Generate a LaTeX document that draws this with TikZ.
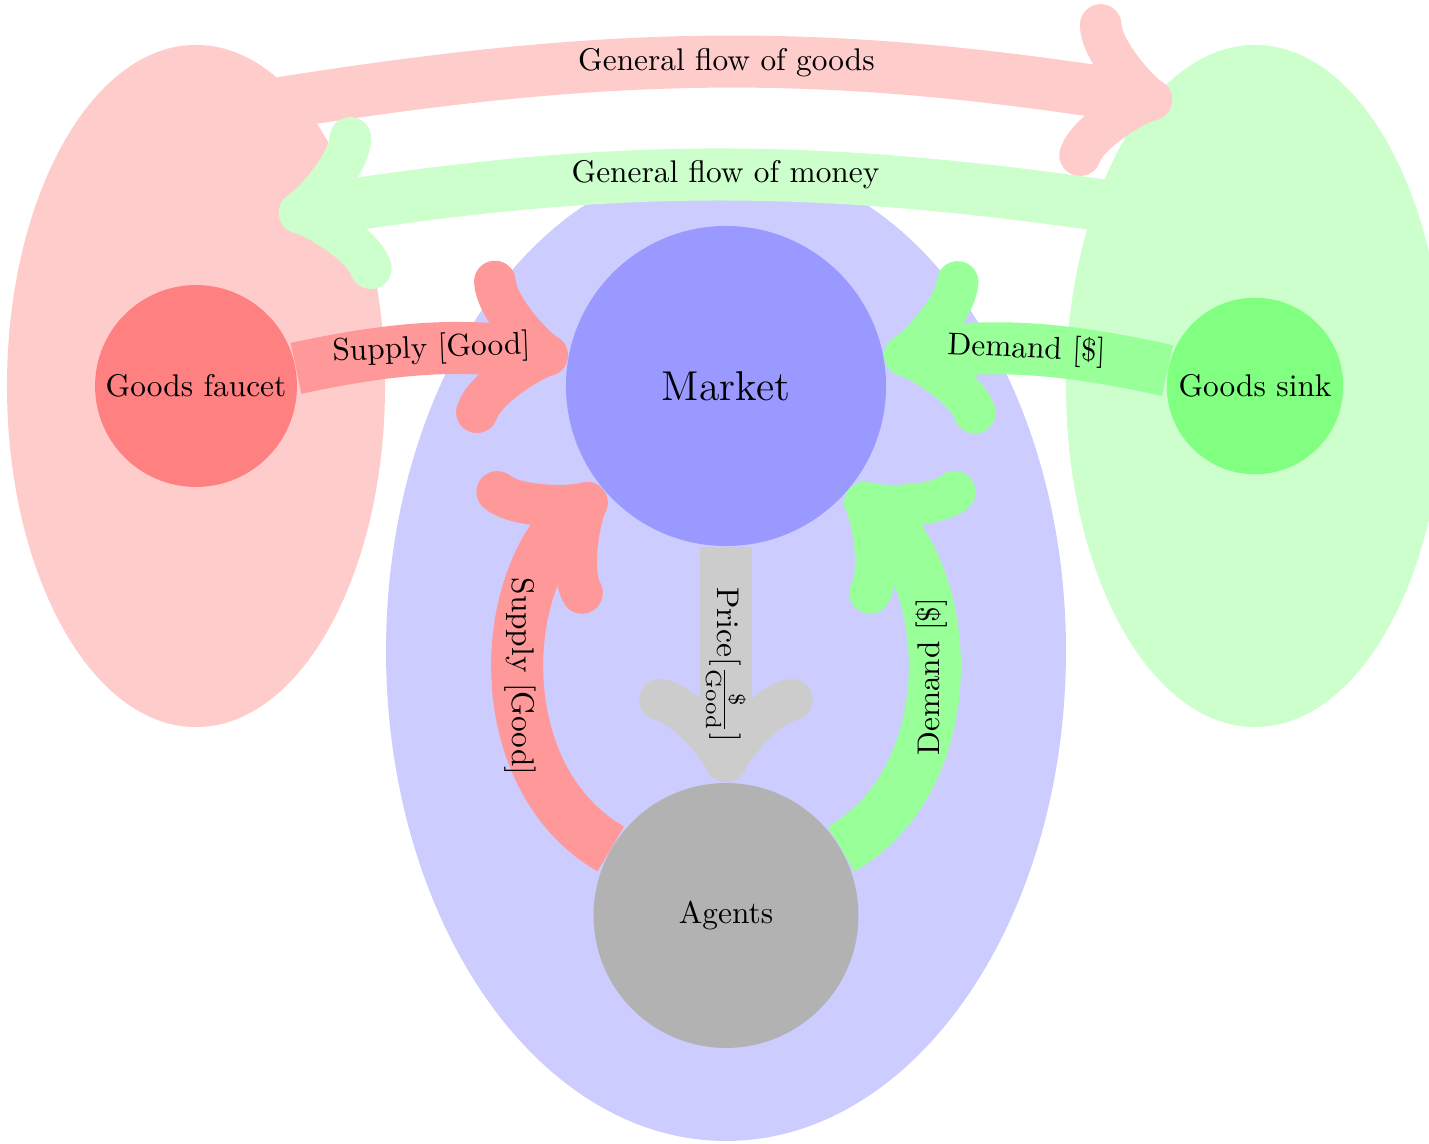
\documentclass[tikz,border=0pt]{standalone}
\usetikzlibrary{shapes.geometric}
\begin{document}
\begin{tikzpicture}[x=0.319pt, y=0.319pt,
  region/.style={ellipse, inner sep=0pt},
  hub/.style={circle, inner sep=0pt},
  flow/.style={line width=16.6pt, ->},
]
\useasboundingbox (0,0) rectangle (1429,1143);

% the three domains
\node[region, fill=red!20, minimum width=120.6pt, minimum height=217.6pt] (source) at (196,757) {};
\node[region, fill=green!20, minimum width=120.6pt, minimum height=217.6pt] (drain) at (1255,757) {};
\node[region, fill=blue!20, minimum width=216.9pt, minimum height=312.6pt] (economy) at (726,492) {};

% actors
\node[hub, fill=red!50, minimum size=64.4pt] (faucet) at (196,757) {Goods faucet};
\node[hub, fill=green!50, minimum size=56.3pt] (sink) at (1255,757) {Goods sink};
\node[hub, fill=blue!40, minimum size=102.1pt, font=\fontsize{13.3pt}{16pt}\selectfont] (market) at (726,757) {Market};
\node[hub, fill=black!30, minimum size=84.5pt] (agents) at (726,227.5) {Agents};

% ends of the general flows
\coordinate (goodsA) at (281,1040);
\coordinate (goodsB) at (1172,1040);
\coordinate (moneyA) at (1172,927);
\coordinate (moneyB) at (279,927);

% general flows between the domains
\draw[flow, draw=red!20] (goodsA) to[bend left=9] node {General flow of goods} (goodsB);
\draw[flow, draw=green!20] (moneyA) to[bend right=9] node {General flow of money} (moneyB);

% flows into the market
\draw[flow, draw=red!40] (faucet) to[bend left=10] node[sloped] {Supply [Good]} (market);
\draw[flow, draw=green!40] (sink) to[bend right=10] node[sloped] {Demand [\$]} (market);

% flows between agents and market
\draw[flow, draw=red!40] (agents) to[out=150, in=220] node[rotate=-90] {Supply [Good]} (market);
\draw[flow, draw=green!40] (agents) to[out=30, in=-40] node[rotate=90] {Demand [\$]} (market);
\draw[flow, draw=black!20] (market) -- node[rotate=-90] {Price$[\frac{\$}{\mathrm{Good}}]$} (agents);
\end{tikzpicture}
\end{document}
